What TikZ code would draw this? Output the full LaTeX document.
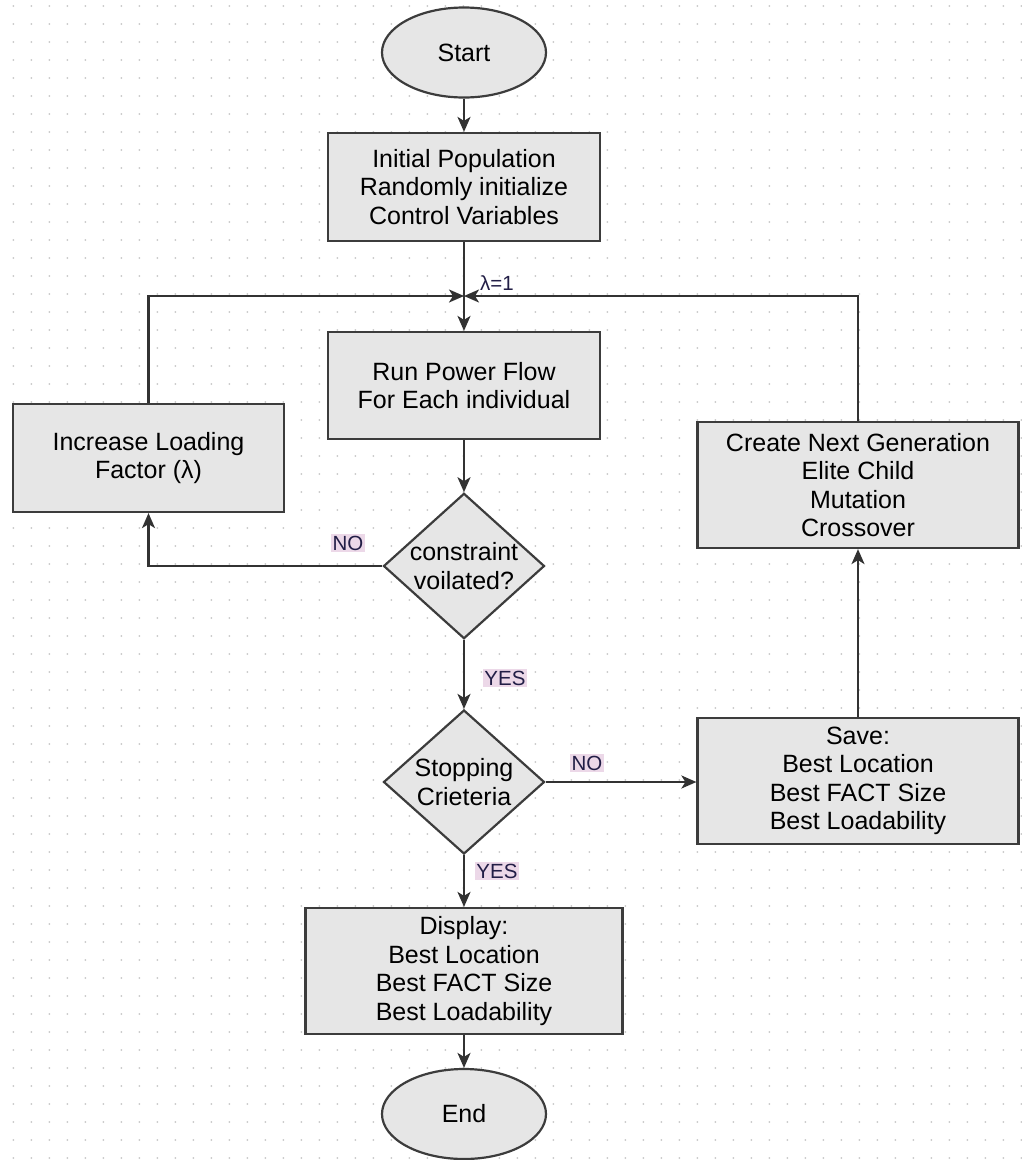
\documentclass[tikz,border=0pt]{standalone}
\usepackage{fontspec}
\setmainfont{Liberation Sans}
\usetikzlibrary{shapes.geometric,arrows.meta}

\definecolor{shapefill}{RGB}{230,230,230}
\definecolor{shapeedge}{RGB}{60,60,60}
\definecolor{linkcol}{RGB}{50,50,50}
\definecolor{griddot}{RGB}{200,200,200}
\definecolor{tagfill}{RGB}{236,216,232}
\definecolor{tagtext}{RGB}{34,30,70}

\tikzset{
  base/.style={draw=shapeedge, fill=shapefill, line width=2.2pt, inner sep=0pt,
    align=center, text=black, font=\fontsize{25}{28.5}\selectfont},
  procbox/.style={base, rectangle},
  terminal/.style={base, ellipse, minimum width=164pt, minimum height=90pt},
  decision/.style={base, diamond, aspect=1.1, minimum width=161pt, minimum height=144pt},
  tag/.style={fill=tagfill, text=tagtext, inner sep=1.5pt,
    font=\fontsize{20.5}{24}\selectfont},
  link/.style={draw=linkcol, line width=2.2pt,
    -{Stealth[length=15pt, width=13pt, inset=4pt]}},
}

\begin{document}
\begin{tikzpicture}[x=1pt, y=-1pt]
\useasboundingbox (0,0) rectangle (1021,1160);

% dotted drawing grid
\foreach \i in {0,...,56}{
  \foreach \j in {0,...,64}{
    \fill[griddot] (13.3+18*\i, 6+18*\j) circle (1pt);
  }
}

% flow shapes
\node[terminal] (start) at (464,52.5) {Start};
\node[procbox, minimum width=272pt, minimum height=108pt] (init) at (464,187)
  {Initial Population\\Randomly initialize\\Control Variables};
\node[procbox, minimum width=272pt, minimum height=107pt] (power) at (464,385.5)
  {Run Power Flow\\For Each individual};
\node[procbox, minimum width=271pt, minimum height=108pt] (load) at (148.5,458)
  {Increase Loading\\Factor (λ)};
\node[decision] (check) at (464,566) {constraint\\voilated?};
\node[decision] (stop) at (464,782) {Stopping\\Crieteria};
\node[procbox, minimum width=321pt, minimum height=126pt] (nextgen) at (858,485)
  {Create Next Generation\\Elite Child\\Mutation\\Crossover};
\node[procbox, minimum width=321pt, minimum height=126pt] (save) at (858,781)
  {Save:\\Best Location\\Best FACT Size\\Best Loadability};
\node[procbox, minimum width=317pt, minimum height=126pt] (show) at (464,971)
  {Display:\\Best Location\\Best FACT Size\\Best Loadability};
\node[terminal] (finish) at (464,1114) {End};

% merge point of the two loops
\coordinate (merge) at (464,296);

% connectors
\draw[link] (start) -- (init);
\draw[link] (init) -- (power);
\draw[link] (load.north) |- (merge);
\draw[link] (nextgen.north) |- (merge);
\draw[link] (power) -- (check);
\draw[link] (check.west) -| (load.south);
\draw[link] (check) -- (stop);
\draw[link] (stop.east) -- (save.west |- stop.east);
\draw[link] (save) -- (nextgen);
\draw[link] (stop) -- (show);
\draw[link] (show) -- (finish);

% connector labels
\node[font=\fontsize{20.5}{24}\selectfont, text=tagtext] (lam) at (497,283) {λ=1};
\node[tag] (noA) at (348,543) {NO};
\node[tag] (yesA) at (505,678) {YES};
\node[tag] (noB) at (587,763) {NO};
\node[tag] (yesB) at (497,871) {YES};
\end{tikzpicture}
\end{document}
